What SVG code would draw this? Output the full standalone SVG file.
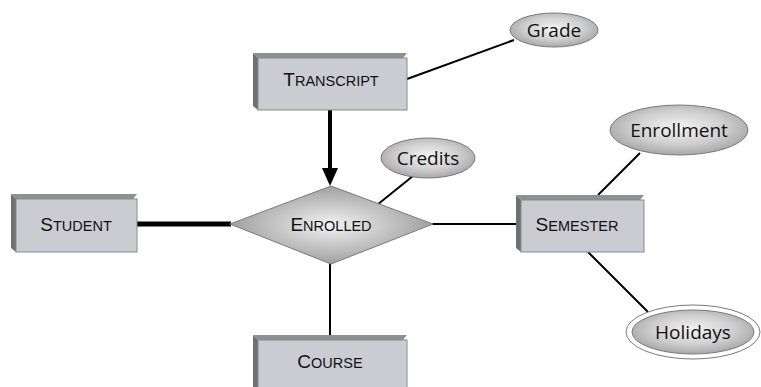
<svg xmlns="http://www.w3.org/2000/svg" width="761" height="387" viewBox="0 0 761 387">
  <defs>
    <radialGradient id="attrFill" cx="0.5" cy="0.45" r="0.55">
      <stop offset="0" stop-color="#f4f4f4"/>
      <stop offset="0.6" stop-color="#cfcfcf"/>
      <stop offset="1" stop-color="#a8a8a8"/>
    </radialGradient>
    <radialGradient id="relFill" cx="0.5" cy="0.5" r="0.5">
      <stop offset="0" stop-color="#f2f2f2"/>
      <stop offset="1" stop-color="#a0a0a0"/>
    </radialGradient>
  </defs>
  <style>
    .face { fill: #cbccd1; stroke: #8a8a8e; stroke-width: 1; }
    .bevel-top { fill: #8f9094; }
    .bevel-left { fill: #6f7074; }
    .ent { font-family: "Liberation Sans", Arial, sans-serif; font-size: 14.5px; fill: #111; text-anchor: middle; }
    .cap { font-size: 19px; }
    .attr { fill: url(#attrFill); stroke: #7a7a7a; stroke-width: 1; }
    .attr-text { font-family: "Open Sans", "Liberation Sans", sans-serif; font-size: 19px; fill: #111; text-anchor: middle; }
    .link { stroke: #000; stroke-width: 2; fill: none; }
    .thick { stroke-width: 4; }
    .heavy { stroke-width: 5; }
  </style>

  <!-- connectors -->
  <g id="connectors">
    <line class="link" x1="407" y1="79" x2="514" y2="40"/>
    <line class="link thick" x1="330" y1="110" x2="330" y2="172"/>
    <polygon points="322,168 338,168 330,186" fill="#000"/>
    <line class="link heavy" x1="137" y1="224" x2="231" y2="224"/>
    <line class="link" x1="432" y1="224" x2="516" y2="224"/>
    <line class="link" x1="330" y1="263" x2="330" y2="335"/>
    <line class="link" x1="377" y1="205" x2="413" y2="176"/>
    <line class="link" x1="598" y1="195" x2="640" y2="153"/>
    <line class="link" x1="588" y1="252" x2="648" y2="312"/>
  </g>

  <!-- entities -->
  <g id="transcript">
    <polygon class="bevel-top" points="253,53 407,53 403,58 258,58"/>
    <polygon class="bevel-left" points="253,53 258,58 258,110 253,106"/>
    <rect class="face" x="258" y="58" width="149" height="52"/>
    <text class="ent" x="331" y="86"><tspan class="cap">T</tspan>RANSCRIPT</text>
  </g>
  <g id="student">
    <polygon class="bevel-top" points="11,194 137,194 133,199 16,199"/>
    <polygon class="bevel-left" points="11,194 16,199 16,252 11,248"/>
    <rect class="face" x="16" y="199" width="121" height="53"/>
    <text class="ent" x="76" y="231"><tspan class="cap">S</tspan>TUDENT</text>
  </g>
  <g id="semester">
    <polygon class="bevel-top" points="516,195 644,195 640,200 521,200"/>
    <polygon class="bevel-left" points="516,195 521,200 521,252 516,248"/>
    <rect class="face" x="521" y="200" width="123" height="52"/>
    <text class="ent" x="577" y="231"><tspan class="cap">S</tspan>EMESTER</text>
  </g>
  <g id="course">
    <polygon class="bevel-top" points="253,335 407,335 403,340 258,340"/>
    <polygon class="bevel-left" points="253,335 258,340 258,392 253,392"/>
    <rect class="face" x="258" y="340" width="149" height="52"/>
    <text class="ent" x="330" y="368"><tspan class="cap">C</tspan>OURSE</text>
  </g>

  <!-- relationship -->
  <g id="enrolled">
    <polygon points="230,224 331,186 433,224 331,264" fill="url(#relFill)" stroke="#7a7a7a" stroke-width="1"/>
    <text class="ent" x="331" y="231"><tspan class="cap">E</tspan>NROLLED</text>
  </g>

  <!-- attributes -->
  <g id="grade">
    <ellipse class="attr" cx="554" cy="30" rx="44" ry="17"/>
    <text class="attr-text" x="554" y="37">Grade</text>
  </g>
  <g id="credits">
    <ellipse class="attr" cx="428" cy="158" rx="47" ry="20"/>
    <text class="attr-text" x="428" y="165">Credits</text>
  </g>
  <g id="enrollment">
    <ellipse class="attr" cx="679" cy="130" rx="69" ry="25"/>
    <text class="attr-text" x="679" y="137">Enrollment</text>
  </g>
  <g id="holidays">
    <ellipse cx="693" cy="332" rx="67" ry="27" fill="#fff" stroke="#7a7a7a" stroke-width="1"/>
    <ellipse class="attr" cx="693" cy="332" rx="61" ry="22"/>
    <text class="attr-text" x="693" y="339">Holidays</text>
  </g>
</svg>
